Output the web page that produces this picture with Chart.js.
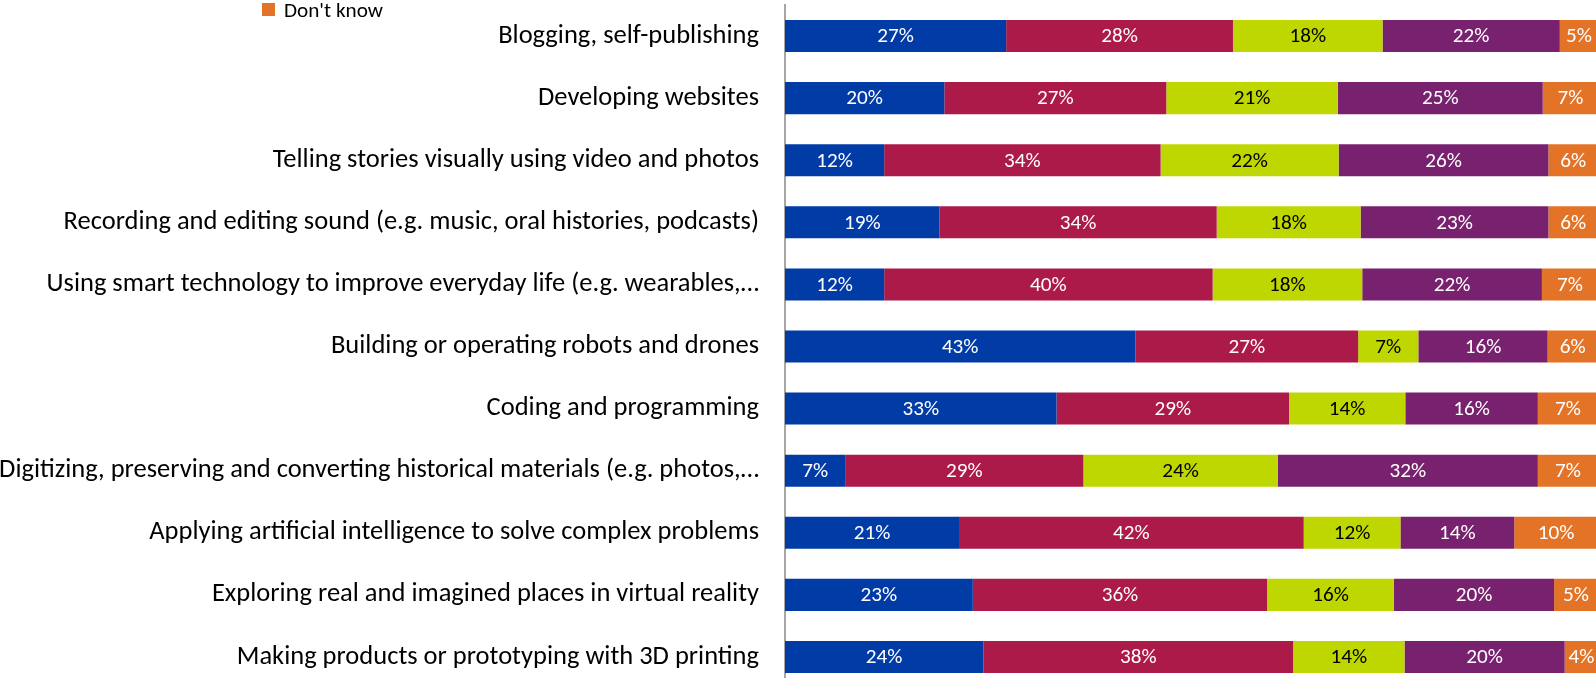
<!DOCTYPE html>
<html>
<head>
<meta charset="utf-8">
<script src="https://cdn.jsdelivr.net/npm/chart.js"></script>
<style>
  html, body { margin: 0; padding: 0; background: #ffffff; overflow: hidden; }
  #wrap { position: absolute; left: 0; top: 0; width: 1598px; height: 688px; }
</style>
</head>
<body>
<div id="wrap"><canvas id="c"></canvas></div>
<script>
// ---- data ----
const categories = [
  "Blogging, self-publishing",
  "Developing websites",
  "Telling stories visually using video and photos",
  "Recording and editing sound (e.g. music, oral histories, podcasts)",
  "Using smart technology to improve everyday life (e.g. wearables,\u2026",
  "Building or operating robots and drones",
  "Coding and programming",
  "Digitizing, preserving and converting historical materials (e.g. photos,\u2026",
  "Applying artificial intelligence to solve complex problems",
  "Exploring real and imagined places in virtual reality",
  "Making products or prototyping with 3D printing"
];
const seriesNames = ["Response 1", "Response 2", "Response 3", "Response 4", "Don't know"];
const series1 = [27.2, 19.6, 12.2, 19.0, 12.2, 43.1, 33.4, 7.4, 21.4, 23.1, 24.4];
const series2 = [27.9, 27.3, 34.0, 34.1, 40.4, 27.4, 28.6, 29.3, 42.4, 36.2, 38.1];
const series3 = [18.4, 21.1, 21.9, 17.7, 18.4, 7.4, 14.3, 23.9, 11.9, 15.6, 13.7];
const series4 = [21.8, 25.2, 25.8, 23.1, 22.1, 15.9, 16.3, 32.0, 14.0, 19.7, 19.7];
const dontKnow = [4.7, 6.8, 6.1, 6.1, 6.9, 6.2, 7.4, 7.4, 10.3, 5.4, 4.1];

// ---- styles ----
const colors = ["#003BA6", "#AB1A48", "#BFD700", "#78216E", "#E37326"];
const labelColors = ["#ffffff", "#ffffff", "#000000", "#ffffff", "#ffffff"];
const FONT = "Carlito, Lato, 'Open Sans', sans-serif";

// calibrate font size so the category text width matches the reference
const mctx = document.createElement('canvas').getContext('2d');
mctx.font = "100px " + FONT;
const wRef = mctx.measureText("Blogging, self-publishing").width;
const catSize = 100 * 261 / wRef;
const valSize = catSize * 0.80;
const legSize = catSize * 0.80;

const allSeries = [series1, series2, series3, series4, dontKnow];

const valueLabels = {
  id: 'valueLabels',
  afterDatasetsDraw(chart) {
    const ctx = chart.ctx;
    ctx.save();
    ctx.font = valSize + "px " + FONT;
    ctx.textAlign = 'center';
    ctx.textBaseline = 'middle';
    chart.data.datasets.forEach((ds, di) => {
      const meta = chart.getDatasetMeta(di);
      meta.data.forEach((bar, i) => {
        const v = ds.data[i];
        const cx = (bar.x + bar.base) / 2;
        ctx.fillStyle = labelColors[di];
        ctx.fillText(Math.round(v) + '%', cx, bar.y + 1);
      });
    });
    ctx.restore();
  }
};

const partialLegend = {
  id: 'partialLegend',
  afterDraw(chart) {
    const ctx = chart.ctx;
    const di = 4;
    ctx.save();
    ctx.fillStyle = colors[di];
    ctx.fillRect(262, 3, 13, 13);
    ctx.fillStyle = '#000000';
    ctx.font = legSize + "px " + FONT;
    ctx.textAlign = 'left';
    ctx.textBaseline = 'alphabetic';
    ctx.fillText(chart.data.datasets[di].label, 284, 17);
    ctx.restore();
  }
};

new Chart(document.getElementById('c'), {
  type: 'bar',
  data: {
    labels: categories,
    datasets: allSeries.map((d, i) => ({
      label: seriesNames[i],
      data: d,
      backgroundColor: colors[i],
      borderWidth: 0,
      barPercentage: 0.516,
      categoryPercentage: 1.0
    }))
  },
  options: {
    indexAxis: 'y',
    responsive: true,
    maintainAspectRatio: false,
    animation: false,
    devicePixelRatio: 1,
    layout: { padding: { top: 5, right: 0, bottom: 0, left: 0 } },
    plugins: {
      legend: { display: false },
      tooltip: { enabled: false }
    },
    scales: {
      x: {
        stacked: true,
        min: 0,
        max: 100,
        display: false
      },
      y: {
        stacked: true,
        afterFit(scale) {
          scale.width = 785;
          scale.paddingTop = 0;
          scale.paddingBottom = 0;
        },
        grid: { display: false, drawTicks: false },
        border: { display: true, color: '#a6a6a6', width: 2 },
        ticks: {
          color: '#000000',
          padding: 26,
          autoSkip: false,
          font: { family: FONT, size: catSize }
        }
      }
    }
  },
  plugins: [valueLabels, partialLegend]
});
</script>
</body>
</html>
